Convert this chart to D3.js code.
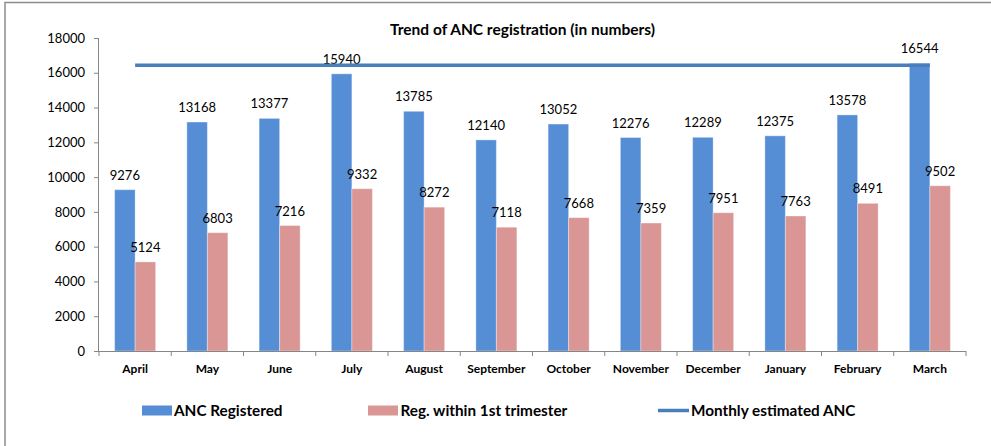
<!DOCTYPE html>
<html><head><meta charset="utf-8">
<script src="https://cdnjs.cloudflare.com/ajax/libs/d3/7.8.5/d3.min.js"></script>
<style>
body{margin:0;background:#fff;}
svg{display:block;}
text{font-family:Lato, "Open Sans", sans-serif;fill:#000;}
</style></head>
<body><svg id="c" width="991" height="446"></svg>
<script>
const months = ["April","May","June","July","August","September","October","November","December","January","February","March"];
const ancRegistered = [9276,13168,13377,15940,13785,12140,13052,12276,12289,12375,13578,16544];
const regFirstTrimester = [5124,6803,7216,9332,8272,7118,7668,7359,7951,7763,8491,9502];
const monthlyEstimated = [16440,16440,16440,16440,16440,16440,16440,16440,16440,16440,16440,16440];
const yTicks = [0,2000,4000,6000,8000,10000,12000,14000,16000,18000];
const seriesNames = ["ANC Registered","Reg. within 1st trimester","Monthly estimated ANC"];
const colors = {blue:"#558ED5", pink:"#D99694", line:"#4A7EBB", axis:"#868686"};

const svg = d3.select("#c");

// frame
svg.append("path").attr("d","M5,446V2.5H991").attr("fill","none").attr("stroke","#8c8c8c").attr("stroke-width",1.5);

const x = d3.scaleBand().domain(months).range([99,966]).padding(0);
const y = d3.scaleLinear().domain([0,18000]).range([351,38]);
const sub = d3.scaleBand().domain([0,1]).range([0,x.bandwidth()]).paddingInner(0).paddingOuter(0.762);

// title
svg.append("text").attr("x",522.5).attr("y",35).attr("text-anchor","middle")
  .style("font-weight","bold").style("font-size","15.5px").text("Trend of ANC registration (in numbers)");

// y axis
const ya = svg.append("g").attr("transform","translate(99,0)")
  .call(d3.axisLeft(y).tickValues(yTicks).tickSize(5).tickPadding(9).tickFormat(d3.format("d")));
ya.select(".domain").attr("stroke",colors.axis).attr("d","M-0.5,38V351");
ya.selectAll(".tick line").attr("stroke",colors.axis);
ya.selectAll(".tick text").style("font-size","13px").style("font-family","Lato, sans-serif").attr("fill","#000");

// bars
const bars = [ancRegistered, regFirstTrimester];
const barColors = [colors.blue, colors.pink];
bars.forEach((vals,si)=>{
  svg.append("g").selectAll("rect").data(vals).join("rect")
    .attr("x",(d,i)=>x(months[i])+sub(si))
    .attr("y",d=>y(d))
    .attr("width",sub.bandwidth())
    .attr("height",d=>y(0)-y(d))
    .attr("fill",barColors[si])
    .attr("stroke","rgba(255,255,255,0.35)").attr("stroke-width",1);
  svg.append("g").selectAll("text").data(vals).join("text")
    .attr("x",(d,i)=>x(months[i])+sub(si)+sub.bandwidth()/2)
    .attr("y",d=>y(d)-10)
    .attr("text-anchor","middle").style("font-size","13px")
    .text(d=>d);
});

// x axis
const xa = svg.append("g");
xa.append("line").attr("x1",99).attr("x2",966).attr("y1",351.5).attr("y2",351.5).attr("stroke",colors.axis);
const bounds = months.map(m=>x(m)).concat([x(months[months.length-1])+x.bandwidth()]);
xa.selectAll("line.t").data(bounds).join("line").attr("class","t")
  .attr("x1",d=>d).attr("x2",d=>d).attr("y1",351).attr("y2",356).attr("stroke",colors.axis);
xa.selectAll("text").data(months).join("text")
  .attr("x",d=>x(d)+x.bandwidth()/2).attr("y",373).attr("text-anchor","middle")
  .style("font-weight","bold").style("font-size","12px").text(d=>d);

// estimated line
const line = d3.line().x((d,i)=>x(months[i])+x.bandwidth()/2).y(d=>y(d));
svg.append("path").datum(monthlyEstimated).attr("d",line).attr("fill","none")
  .attr("stroke",colors.line).attr("stroke-width",3.5);

// legend
const leg = svg.append("g");
leg.append("rect").attr("x",142).attr("y",405.5).attr("width",30).attr("height",10).attr("fill",colors.blue);
leg.append("text").attr("x",174).attr("y",416).style("font-weight","bold").style("font-size","15.3px").text(seriesNames[0]);
leg.append("rect").attr("x",368).attr("y",405.5).attr("width",30).attr("height",10).attr("fill",colors.pink);
leg.append("text").attr("x",400.5).attr("y",416).style("font-weight","bold").style("font-size","15.3px").text(seriesNames[1]);
leg.append("line").attr("x1",658).attr("x2",689).attr("y1",410.5).attr("y2",410.5).attr("stroke",colors.line).attr("stroke-width",3.5);
leg.append("text").attr("x",691).attr("y",416).style("font-weight","bold").style("font-size","15.3px").text(seriesNames[2]);
</script></body></html>
